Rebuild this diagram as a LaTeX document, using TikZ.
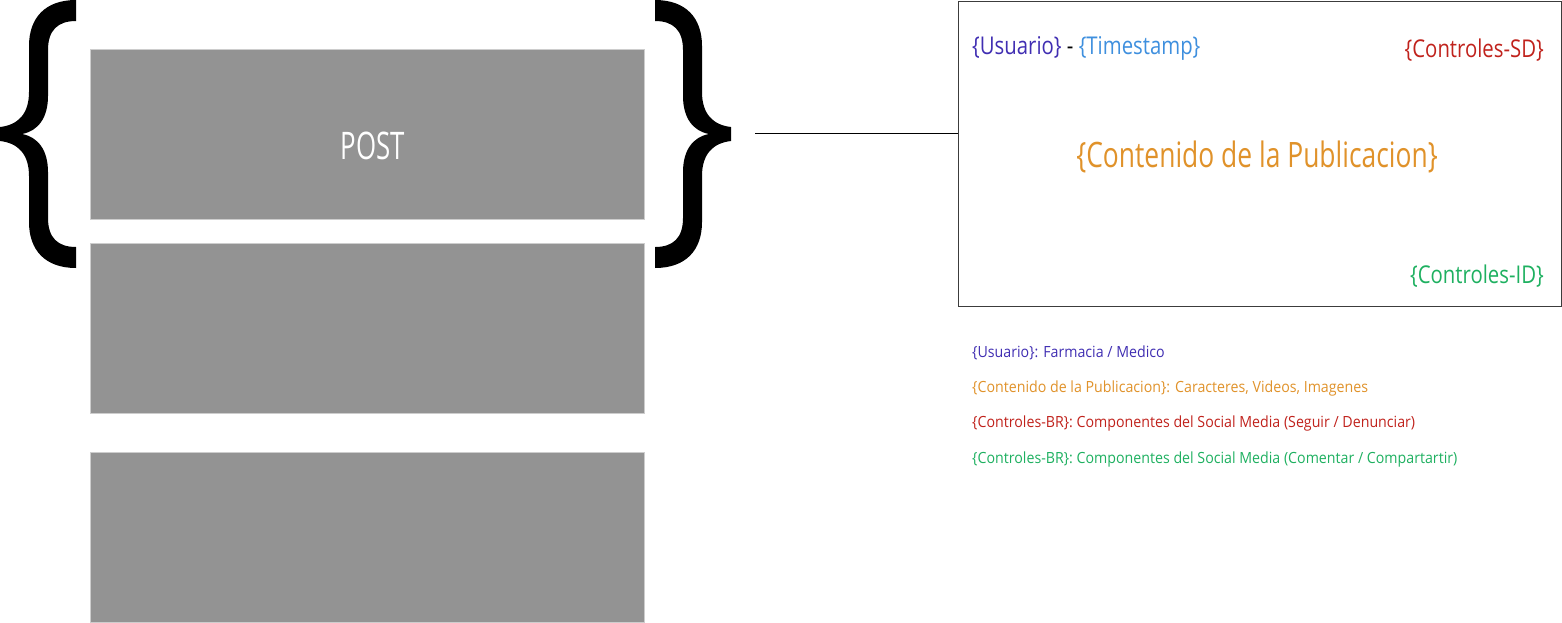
\documentclass[tikz,border=0pt]{standalone}
\usepackage{fontspec}
\setmainfont{Open Sans}[FakeStretch=0.72]
\newfontfamily\fpost{Open Sans}[FakeStretch=0.68]
\newfontfamily\fbig{Open Sans}[FakeStretch=0.83]
\newfontfamily\fhuge{Open Sans}[FakeStretch=0.755]
\newfontfamily\fsmall{Open Sans}[FakeStretch=0.922]
\definecolor{postgray}{RGB}{147,147,147}
\definecolor{postedge}{RGB}{205,205,205}
\definecolor{cUsuario}{RGB}{64,46,178}
\definecolor{cTime}{RGB}{62,143,222}
\definecolor{cSD}{RGB}{192,34,28}
\definecolor{cCont}{RGB}{224,146,42}
\definecolor{cID}{RGB}{30,176,96}
\definecolor{boxedge}{RGB}{60,60,60}
\begin{document}
\begin{tikzpicture}[x=1pt,y=-1pt,
  postbox/.style={rectangle,fill=postgray,draw=postedge,line width=0.8pt,minimum width=554pt,minimum height=170pt,inner sep=0pt},
  posttext/.style={text=white,inner sep=0pt,font=\fpost\fontsize{38}{40}\selectfont},
  cardbox/.style={rectangle,draw=boxedge,line width=1pt,minimum width=603pt,minimum height=305pt,inner sep=0pt},
  big/.style={font=\fbig\fontsize{24.5}{28}\selectfont,inner sep=0pt},
  huge/.style={font=\fhuge\fontsize{35}{40}\selectfont,inner sep=0pt},
  small/.style={font=\fsmall\fontsize{15.4}{18}\selectfont,inner sep=0pt,anchor=base west},
  bracefill/.style={fill=black}]
\useasboundingbox (0,0) rectangle (1562,622);
% posts
\node[postbox] (p1) at (367,134) {};
\node[posttext] (posttxt) at ([xshift=6pt,yshift=-12pt]p1.center) {POST};
\node[postbox] (p2) at (367,328) {};
\node[postbox] (p3) at (367,537) {};
% braces
\def\bracepath{(76,0) -- (76,21) .. controls (58,21) and (48,30) .. (48,50) -- (48,96) .. controls (48,118) and (38,131) .. (22,134) .. controls (38,137) and (48,150) .. (48,172) -- (48,218) .. controls (48,238) and (58,247) .. (76,247) -- (76,268) .. controls (45,268) and (29,250) .. (29,222) -- (29,176) .. controls (29,154) and (18,143) .. (0,141) -- (0,127) .. controls (18,125) and (29,114) .. (29,92) -- (29,46) .. controls (29,18) and (45,0) .. (76,0) -- cycle}
\fill[bracefill] \bracepath;
\begin{scope}[xshift=731pt,xscale=-1]
\fill[bracefill] \bracepath;
\end{scope}
% card
\node[cardbox] (card) at (1259.5,153.5) {};
\coordinate (btip) at (755,133);
\draw[line width=0.8pt] (btip) -- (btip -| card.west);
\node[big,anchor=base west] (usr) at (972,54) {\textcolor{cUsuario}{\{Usuario\}} - \textcolor{cTime}{\{Timestamp\}}};
\node[big,anchor=base east,text=cSD] (sd) at (1544,57) {\{Controles-SD\}};
\node[huge,anchor=base,text=cCont] (cont) at (1257,167) {\{Contenido de la Publicacion\}};
\node[big,anchor=base east,text=cID] (id) at (1544,283) {\{Controles-ID\}};
% legend
\node[small,text=cUsuario] (l1) at (972,357) {\{Usuario\}: Farmacia / Medico};
\node[small,text=cCont] (l2) at (972,392) {\{Contenido de la Publicacion\}: Caracteres, Videos, Imagenes};
\node[small,text=cSD] (l3) at (972,427.5) {\{Controles-BR\}: Componentes del Social Media (Seguir / Denunciar)};
\node[small,text=cID] (l4) at (972,463) {\{Controles-BR\}: Componentes del Social Media (Comentar / Compartartir)};
\end{tikzpicture}
\end{document}
